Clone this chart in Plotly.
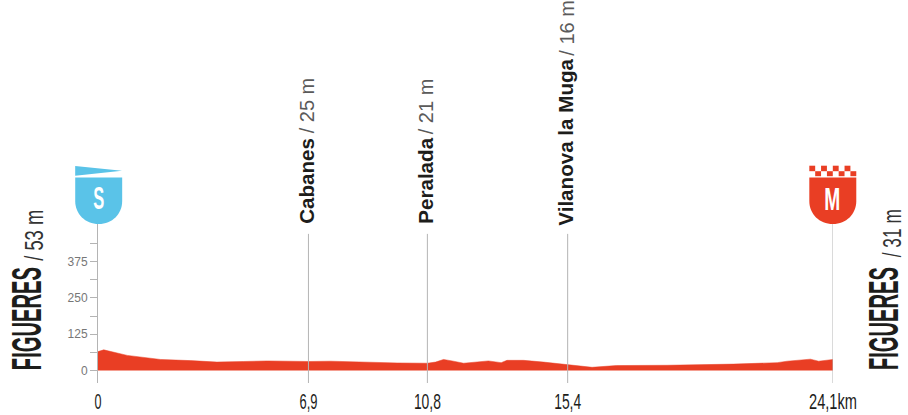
import plotly.graph_objects as go

# profile
km = [0, 0.19, 0.96, 1.39, 2.05, 3.03, 3.9, 4.78, 5.55, 6.9, 7.62, 9.81, 10.8, 11.07, 11.33, 11.61, 11.99,
      12.8, 13.22, 13.41, 13.95, 14.6, 15.4, 16.2, 17.0, 18.66, 20.84, 22.27, 22.6, 23.36, 23.63, 24.1]
elev = [65, 71, 52, 47, 38, 34, 29, 31, 33, 31, 32, 26, 25, 29, 38, 33, 25,
        33, 27, 35, 35, 29, 19, 11, 17, 18, 22, 27, 32, 39, 32, 38]

y_ticks = [0, 62.5, 125, 187.5, 250, 312.5, 375, 437.5]
y_labels = ['0', '', '125', '', '250', '', '375', '']
x_ticks = [0, 6.9, 10.8, 15.4, 24.1]
x_labels = ['0', '6,9', '10,8', '15,4', '24,1km']

towns = ['Cabanes', 'Peralada', 'Vilanova la Muga']
town_km = [6.9, 10.8, 15.4]
town_alt = ['/ 25 m', '/ 21 m', '/ 16 m']

RED = '#E93E24'
BLUE = '#5AC3E8'
GREY = '#b4b4b4'
SANS = 'Liberation Sans'
W, H = 908, 415
L, R, T, B = 97.5, 75, 224, 32


def px(x):
    return (x - L) / (W - L - R)


def py(y):
    return 1 - (y - T) / (H - T - B)


fig = go.Figure()
fig.add_trace(go.Scatter(x=km, y=elev, mode='lines', fill='tozeroy', fillcolor=RED,
                         line=dict(color=RED, width=0.5), hoverinfo='skip', showlegend=False))

# vertical lines at start, towns, finish
for k in town_km:
    fig.add_shape(type='line', x0=k, x1=k, y0=-43, y1=470, xref='x', yref='y', line=dict(color=GREY, width=1))
fig.add_shape(type='line', x0=24.1, x1=24.1, y0=-43, y1=504, xref='x', yref='y', line=dict(color=GREY, width=1))


def shield(x0, x1, color):
    path = (f'M {px(x0)} {py(177.4)} L {px(x1)} {py(177.4)} L {px(x1)} {py(201)} '
            f'C {px(x1)} {py(214)} {px(x1 - 10)} {py(224)} {px((x0 + x1) / 2)} {py(224)} '
            f'C {px(x0 + 10)} {py(224)} {px(x0)} {py(214)} {px(x0)} {py(201)} Z')
    fig.add_shape(type='path', path=path, xref='paper', yref='paper', fillcolor=color, line=dict(width=0))


shield(74.7, 121.7, BLUE)
shield(809.3, 856.3, RED)
# start flag
fig.add_shape(type='path', xref='paper', yref='paper', fillcolor=BLUE, line=dict(width=0),
              path=f'M {px(74.7)} {py(166)} L {px(121.5)} {py(170.8)} L {px(74.7)} {py(175.7)} Z')
# finish checks
for row, (y0, y1) in enumerate([(165.7, 171.2), (171.2, 176.2)]):
    for i in range(4):
        x0 = 809.3 + row * 5.87 + i * 11.75
        fig.add_shape(type='rect', xref='paper', yref='paper', fillcolor=RED, line=dict(width=0),
                      x0=px(x0), x1=px(x0 + 5.87), y0=py(y1), y1=py(y0))


def note(text, x, y, size, color, family, angle=-90, weight=None):
    fig.add_annotation(text=text, x=px(x), y=py(y), xref='paper', yref='paper', showarrow=False,
                       textangle=angle, xanchor='center', yanchor='middle',
                       font=dict(size=size, color=color, family=family, weight=weight))


# town labels
name_pos = [(305.5, 181), (424.5, 181), (565, 142.5)]
alt_pos = [(306.5, 105.5), (425.5, 106.5), (566.5, 28)]
for t, a, p, q in zip(towns, town_alt, name_pos, alt_pos):
    note(t, p[0], p[1], 20.6, '#1d1d1b', SANS, weight=700)
    note(a, q[0], q[1], 20, '#5a5a5a', SANS)

# start and finish names
note('FIGUERES', 24.5, 318.5, 43, '#1d1d1b', SANS, weight=700)
note('/ 53 m', 33, 235.5, 25, '#333333', SANS)
note('FIGUERES', 883, 318.5, 43, '#1d1d1b', SANS, weight=700)
note('/ 31 m', 892, 233, 25, '#333333', SANS)
note('S', 97.7, 198, 32, 'white', SANS, angle=0, weight=700)
note('M', 832.8, 198.5, 32, 'white', SANS, angle=0, weight=700)

fig.update_layout(
    width=W, height=H, margin=dict(l=L, r=R, t=T, b=B, pad=0), plot_bgcolor='white', paper_bgcolor='white',
    xaxis=dict(range=[0, 24.1], tickmode='array', tickvals=x_ticks, ticktext=x_labels, showgrid=False,
               zeroline=False, showline=False, ticks='', ticklabelstandoff=3, automargin=False,
               tickfont=dict(family=SANS, size=22, color='#1d1d1b')),
    yaxis=dict(range=[-43, 504], tickmode='array', tickvals=y_ticks, ticktext=y_labels, showgrid=False,
               zeroline=False, showline=True, linecolor=GREY, linewidth=1, ticks='outside', ticklen=7,
               tickcolor=GREY, tickwidth=1, ticklabelstandoff=0, automargin=False,
               tickfont=dict(family=SANS, size=12, color='#777777')),
)

# squeeze the condensed texts to the widths in the reference, no condensed font is installed
squeeze = """
document.body.style.margin = '0';
var lengths = {'FIGUERES': 103, '/ 53 m': 51, '/ 31 m': 48, 'S': 11, 'M': 16,
               '0': 7, '6,9': 18, '10,8': 27, '15,4': 27, '24,1km': 48};
document.querySelectorAll('.annotation-text, .xtick text').forEach(function (el) {
    var n = lengths[el.textContent];
    if (n) {
        el.setAttribute('textLength', n);
        el.setAttribute('lengthAdjust', 'spacingAndGlyphs');
    }
});
"""
fig.write_html("out.html", post_script=squeeze, config=dict(displayModeBar=False))
